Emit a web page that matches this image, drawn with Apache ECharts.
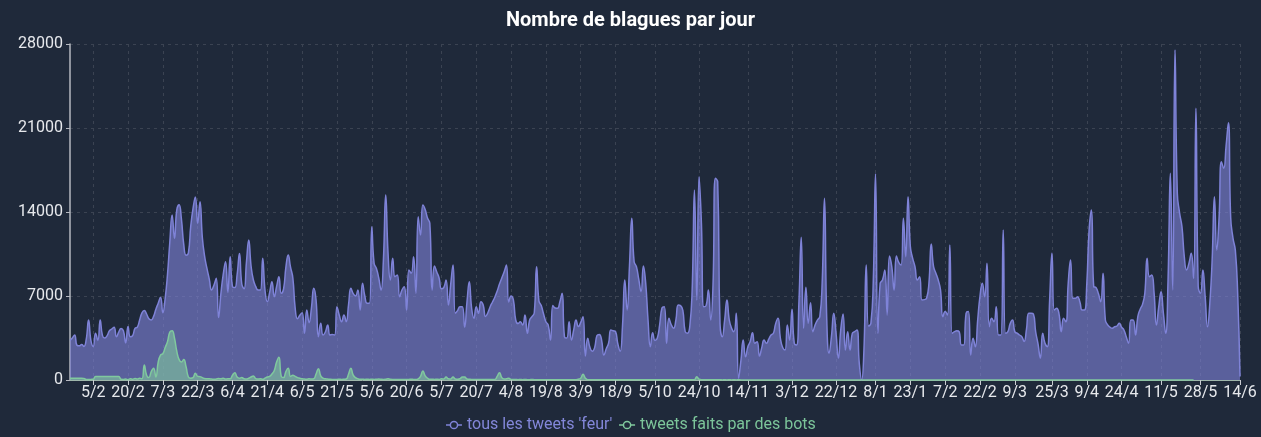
<!DOCTYPE html>
<html>
<head>
<meta charset="utf-8">
<title>Nombre de blagues par jour</title>
<script src="https://cdn.jsdelivr.net/npm/echarts@6/dist/echarts.min.js"></script>
<style>
  html, body { margin: 0; padding: 0; background: #1f293a; }
  #chart { width: 1261px; height: 437px; }
</style>
</head>
<body>
<div id="chart"></div>
<script>
// first and last day of the series (one point per day)
const firstDay = '2022-01-26';
const lastDay = '2023-06-14';

// dates that carry a label / tick / vertical grid line on the x axis
const tickDates = [
    '2022-02-05', '2022-02-20', '2022-03-07', '2022-03-22', '2022-04-06', '2022-04-21',
    '2022-05-06', '2022-05-21', '2022-06-05', '2022-06-20', '2022-07-05', '2022-07-20',
    '2022-08-04', '2022-08-19', '2022-09-03', '2022-09-18', '2022-10-05', '2022-10-24',
    '2022-11-14', '2022-12-03', '2022-12-22', '2023-01-08', '2023-01-23', '2023-02-07',
    '2023-02-22', '2023-03-09', '2023-03-25', '2023-04-09', '2023-04-24', '2023-05-11',
    '2023-05-28', '2023-06-14'
];

const seriesNames = ["tous les tweets 'feur'", 'tweets faits par des bots'];

// tous les tweets 'feur', per day
const allTweets = [
    3300, 3500, 3750, 2900, 2850, 2950, 2800, 3400, 5000, 3300,
    2800, 3900, 3300, 5000, 3700, 3500, 3700, 4100, 4250, 4400,
    3600, 4000, 4300, 4100, 3100, 4450, 3600, 3700, 4300, 4400,
    5000, 5600, 5800, 5500, 5100, 5000, 5300, 5900, 6400, 6900,
    5600, 6800, 8800, 11500, 13750, 11800, 14170, 14600, 13400, 11300,
    10400, 10600, 12800, 14300, 15250, 13050, 14860, 11900, 10300, 9300,
    8400, 7500, 7900, 8470, 5200, 7200, 8800, 9860, 7300, 10280,
    7780, 7700, 8800, 10550, 8000, 7600, 9800, 11670, 9500, 8330,
    7800, 7500, 7500, 10140, 7500, 6530, 7300, 8190, 6940, 7800,
    8610, 7220, 7600, 9400, 10420, 9400, 8500, 6000, 5100, 5400,
    5600, 3890, 5830, 4780, 6000, 7640, 6670, 3610, 4720, 3750,
    4000, 4580, 3750, 3800, 3750, 6110, 5400, 4860, 5420, 4860,
    6300, 7640, 7200, 7000, 7500, 5830, 8060, 7000, 6390, 6390,
    12780, 9720, 9300, 8500, 7500, 10000, 15420, 10600, 8330, 10140,
    8610, 8750, 6940, 7500, 7780, 5830, 9170, 8890, 10280, 7220,
    13610, 12080, 14580, 14200, 13500, 13060, 7500, 9500, 9000, 8500,
    7600, 7700, 8330, 6250, 8000, 9580, 5560, 5800, 6110, 6110,
    4400, 6500, 8190, 6000, 5140, 6110, 5560, 6530, 6250, 5300,
    5600, 6110, 6500, 6900, 7400, 8000, 8500, 9000, 9580, 6500,
    7000, 6670, 5000, 4700, 4860, 4580, 5420, 3890, 5000, 5280,
    5600, 9440, 6600, 6200, 5500, 4860, 4580, 3330, 6200, 6000,
    5970, 6500, 7220, 3600, 3500, 4860, 3330, 4200, 5000, 4450,
    4800, 5280, 2000, 3470, 2700, 2400, 2700, 3700, 3800, 3330,
    2080, 2600, 3060, 4170, 4100, 4030, 3000, 2400, 4500, 8330,
    5830, 9500, 13470, 9860, 9440, 8400, 7360, 9500, 8060, 5000,
    2780, 3940, 3300, 3500, 4600, 6000, 6100, 3060, 5140, 4600,
    4310, 5000, 6250, 6200, 5800, 4030, 3900, 4500, 7500, 15830,
    6670, 16940, 13060, 6110, 6200, 7500, 5000, 8000, 16810, 16530,
    4720, 3610, 5000, 6670, 5000, 4300, 4030, 5560, 140, 1600,
    3330, 1940, 2780, 3200, 3940, 3060, 3190, 2000, 2700, 3330,
    3060, 3400, 3750, 3890, 4720, 5140, 3500, 2700, 2500, 4580,
    3330, 5890, 3060, 2920, 6500, 11890, 4310, 7720, 4720, 6440,
    4030, 4600, 5000, 5280, 8060, 15140, 5000, 2220, 3610, 5560,
    3890, 1810, 4170, 5500, 2500, 4030, 2500, 3890, 4030, 4170,
    1390, 0, 2500, 9580, 4500, 4720, 8060, 17170, 3890, 8060,
    8330, 9170, 5420, 10330, 9440, 7500, 10330, 9800, 9580, 13470,
    10280, 15280, 11110, 10140, 9440, 8330, 8610, 6670, 6700, 6810,
    8060, 11330, 9440, 8900, 8330, 7500, 5280, 5700, 5420, 11250,
    3890, 4030, 4100, 4030, 2920, 2920, 5560, 5700, 2080, 3470,
    2780, 5000, 7000, 8060, 6940, 9720, 4440, 5140, 4860, 6110,
    3750, 3750, 12500, 3890, 4030, 4700, 5000, 4030, 3900, 3750,
    3610, 3200, 4200, 5560, 5560, 5500, 4000, 3000, 1810, 3890,
    3060, 2780, 6670, 10560, 5830, 5970, 5560, 4030, 5140, 4860,
    8060, 10000, 6810, 6810, 6940, 6530, 5830, 5830, 8000, 12500,
    14170, 7780, 7700, 7200, 6530, 8890, 5000, 4600, 4400, 4310,
    4440, 4500, 4720, 4400, 4170, 3600, 3060, 5000, 5000, 3750,
    5300, 5900, 6300, 7220, 10140, 8610, 8750, 7220, 4580, 6110,
    7360, 5560, 3890, 8330, 17220, 7500, 27500, 15560, 13890, 12780,
    10280, 9170, 9720, 10560, 8470, 22640, 7780, 7220, 9170, 6940,
    4440, 6390, 10000, 15280, 10830, 13610, 18190, 17640, 19500, 21440,
    13500, 11800, 10800, 7220, 300
];

// tweets faits par des bots, per day
const botTweets = [
    150, 150, 150, 150, 150, 150, 120, 50, 40, 50,
    60, 300, 300, 300, 300, 300, 300, 300, 300, 300,
    300, 300, 60, 50, 80, 30, 100, 60, 120, 80,
    150, 100, 1250, 400, 200, 700, 970, 250, 1500, 2080,
    2200, 2700, 3200, 4000, 4110, 3500, 2400, 1700, 1500, 1700,
    1100, 250, 150, 200, 560, 300, 280, 200, 120, 100,
    100, 80, 60, 80, 120, 100, 150, 80, 100, 100,
    400, 610, 250, 150, 200, 100, 80, 150, 250, 330,
    120, 80, 100, 60, 150, 250, 300, 500, 800, 1500,
    1900, 300, 200, 700, 970, 300, 400, 300, 200, 150,
    100, 80, 60, 100, 80, 100, 500, 940, 350, 150,
    100, 80, 60, 50, 50, 50, 60, 50, 60, 80,
    500, 970, 400, 200, 100, 60, 60, 50, 60, 50,
    60, 50, 60, 80, 60, 50, 60, 100, 60, 50,
    50, 50, 40, 50, 50, 40, 50, 60, 50, 40,
    100, 300, 750, 350, 150, 60, 60, 50, 60, 50,
    100, 80, 250, 100, 80, 250, 80, 60, 100, 250,
    250, 80, 60, 50, 50, 40, 50, 50, 40, 50,
    50, 40, 50, 50, 300, 610, 200, 80, 100, 140,
    50, 40, 40, 30, 40, 30, 40, 30, 30, 40,
    30, 30, 30, 30, 30, 30, 30, 30, 30, 30,
    30, 30, 30, 30, 30, 30, 30, 30, 30, 60,
    150, 470, 150, 30, 30, 30, 30, 20, 20, 20,
    20, 20, 20, 20, 20, 20, 20, 20, 20, 20,
    20, 20, 20, 20, 20, 20, 20, 20, 20, 20,
    20, 20, 20, 20, 20, 20, 20, 20, 20, 20,
    20, 20, 20, 20, 20, 20, 20, 20, 20, 20,
    280, 60, 20, 20, 20, 20, 20, 20, 20, 20,
    20, 10, 20, 10, 20, 10, 20, 10, 20, 10,
    10, 10, 10, 10, 10, 10, 10, 10, 10, 10,
    10, 10, 10, 10, 10, 10, 10, 10, 10, 10,
    10, 10, 10, 10, 10, 10, 10, 10, 10, 10,
    10, 10, 10, 10, 10, 10, 10, 10, 10, 10,
    10, 10, 10, 10, 10, 10, 10, 10, 10, 10,
    10, 10, 10, 10, 10, 10, 10, 10, 10, 10,
    10, 10, 10, 10, 10, 10, 10, 10, 10, 10,
    10, 10, 10, 10, 10, 10, 10, 10, 10, 10,
    10, 10, 10, 10, 10, 10, 10, 10, 10, 10,
    10, 10, 10, 10, 10, 10, 10, 10, 10, 10,
    10, 10, 10, 10, 10, 10, 10, 10, 10, 10,
    10, 10, 10, 10, 10, 10, 10, 10, 10, 10,
    10, 10, 10, 10, 10, 10, 10, 10, 10, 10,
    10, 10, 10, 10, 10, 10, 10, 10, 10, 10,
    10, 10, 10, 10, 10, 10, 10, 10, 10, 10,
    10, 10, 10, 10, 10, 10, 10, 10, 10, 10,
    10, 10, 10, 10, 10, 10, 10, 10, 10, 10,
    10, 10, 10, 10, 10, 10, 10, 10, 10, 10,
    10, 10, 10, 10, 10, 10, 10, 10, 10, 10,
    10, 10, 10, 10, 10
];

const seriesColors = ['#7f83d8', '#80c99e'];
const legendTextColors = ['#8387d9', '#7cc59a'];

// category per day, ISO dates so that the two years don't collide
const days = [];
for (let t = Date.parse(firstDay); t <= Date.parse(lastDay); t += 24 * 3600 * 1000) {
    days.push(new Date(t).toISOString().slice(0, 10));
}

const isTick = (index, value) => tickDates.includes(value);
const dayLabel = (value) => {
    const parts = value.split('-');
    return (+parts[2]) + '/' + (+parts[1]);
};

const gridLine = { show: true, lineStyle: { color: '#3b4352', type: [3, 4], width: 1 } };

const myChart = echarts.init(document.getElementById('chart'), null, { renderer: 'canvas' });

const option = {
    backgroundColor: '#1f293a',
    animation: false,
    textStyle: { fontFamily: 'Roboto' },
    title: {
        text: 'Nombre de blagues par jour',
        left: 'center',
        top: 6,
        textStyle: { color: '#ffffff', fontSize: 20, fontWeight: 'bold', fontFamily: 'Roboto' }
    },
    legend: {
        top: 412,
        left: 'center',
        itemWidth: 16,
        itemHeight: 9,
        itemGap: 6,
        textStyle: { fontSize: 16, fontFamily: 'Roboto' },
        data: seriesNames.map((name, i) => ({
            name: name,
            itemStyle: { color: '#1f293a', borderColor: seriesColors[i], borderWidth: 1.5 },
            lineStyle: { color: seriesColors[i], width: 1.5 },
            textStyle: { color: legendTextColors[i] }
        }))
    },
    grid: { left: 70, right: 21, top: 44, bottom: 57 },
    xAxis: {
        type: 'category',
        boundaryGap: false,
        data: days,
        axisLine: { show: true, lineStyle: { color: '#9fb7ab', width: 1 } },
        axisTick: { show: true, interval: isTick, length: 5, lineStyle: { color: '#c9ccd2' } },
        axisLabel: {
            interval: isTick,
            formatter: dayLabel,
            color: '#e6e8ec',
            fontSize: 16,
            margin: 5
        },
        splitLine: Object.assign({ interval: isTick }, gridLine)
    },
    yAxis: {
        type: 'value',
        min: 0,
        max: 28000,
        interval: 7000,
        axisLine: { show: true, lineStyle: { color: '#b6b9c1', width: 1.5 } },
        axisTick: { show: true, length: 4, lineStyle: { color: '#b6b9c1' } },
        axisLabel: { color: '#e6e8ec', fontSize: 16, margin: 7, formatter: (v) => String(v) },
        splitLine: gridLine
    },
    series: [
        {
            name: seriesNames[0],
            type: 'line',
            data: allTweets,
            smooth: true,
            symbol: 'circle',
            showSymbol: false,
            lineStyle: { color: seriesColors[0], width: 1.5 },
            itemStyle: { color: seriesColors[0] },
            areaStyle: { color: seriesColors[0], opacity: 0.62 },
            emphasis: { disabled: true }
        },
        {
            name: seriesNames[1],
            type: 'line',
            data: botTweets,
            smooth: true,
            symbol: 'circle',
            showSymbol: false,
            lineStyle: { color: seriesColors[1], width: 1.5 },
            itemStyle: { color: seriesColors[1] },
            areaStyle: { color: seriesColors[1], opacity: 0.6 },
            emphasis: { disabled: true }
        }
    ]
};

myChart.setOption(option);
</script>
</body>
</html>
